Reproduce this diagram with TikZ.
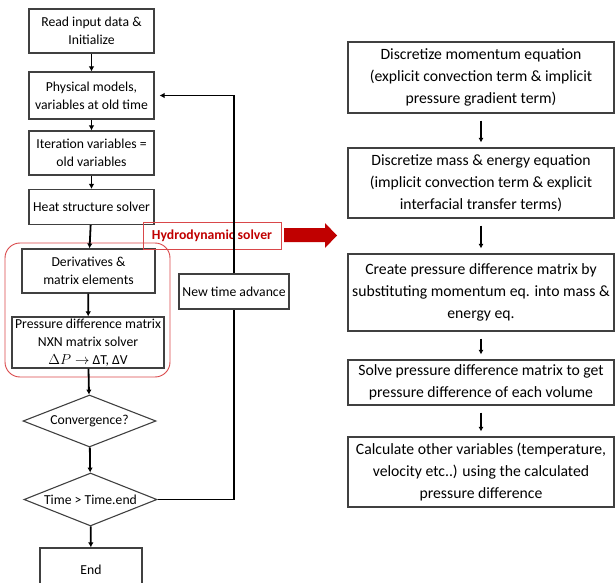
\documentclass[tikz,border=0pt]{standalone}
\usepackage{fontspec}
\setmainfont{Carlito}
\usetikzlibrary{shapes.geometric,arrows.meta}
\definecolor{boxgray}{HTML}{404040}
\definecolor{darkred}{HTML}{C00000}
\definecolor{softred}{HTML}{D9484A}
\tikzset{
  flow/.style={draw=boxgray, line width=1.1pt, align=center, inner sep=0pt,
    font=\fontsize{13.7}{18}\selectfont},
  decide/.style={flow, diamond, aspect=2.5},
  rightbox/.style={flow, minimum width=266, font=\fontsize{15.7}{22}\selectfont},
  arr/.style={line width=1.8pt, -{Latex[length=5pt,width=5.5pt]}},
  thinarr/.style={line width=1.5pt, -{Latex[length=4.5pt,width=5pt]}},
}
\begin{document}
\begin{tikzpicture}[x=1pt,y=-1pt]
        \useasboundingbox (0,0) rectangle (616,583);
        \clip (0,0) rectangle (616,583);
        \node[flow, minimum width=125, minimum height=44] (read) at (91.5,31) {Read input data \&\\Initialize};
        \node[flow, minimum width=125, minimum height=47] (phys) at (91.5,95.5) {Physical models,\\variables at old time};
        \node[flow, minimum width=125, minimum height=44] (iter) at (91.5,153) {Iteration variables =\\old variables};
        \node[flow, minimum width=125, minimum height=35] (heat) at (91.5,207) {Heat structure solver};
        \node[flow, minimum width=133, minimum height=44] (deriv) at (88.5,271) {Derivatives \&\\matrix elements};
        \node[flow, minimum width=152, minimum height=51] (pdm) at (88,342.5) {Pressure difference matrix\\NXN matrix solver\\$\Delta P\rightarrow$ ΔT, ΔV};
        \node[decide, minimum width=133, minimum height=52] (conv) at (89.5,421) {Convergence?};
        \node[decide, minimum width=133, minimum height=53] (tend) at (90.5,499.5) {Time > Time.end};
        \node[flow, minimum width=102, minimum height=44] (stop) at (91,570) {End};
        \node[flow, fill=white, minimum width=110, minimum height=35] (newtime) at (234,291.5) {New time advance};
        \draw[softred, line width=0.9pt, rounded corners=15] (5,243) rectangle (170,377);
        \node[draw=softred, line width=0.9pt, text=darkred, inner sep=0pt, minimum width=138, minimum height=27,
              font=\fontsize{13.7}{18}\selectfont\bfseries] (hydro) at (212,235.5) {Hydrodynamic solver};
        \fill[darkred] (284,228) -- (325,228) -- (325,223) -- (337,235.5) -- (325,248) -- (325,242) -- (284,242) -- cycle;
        \foreach \a/\b in {read/phys,phys/iter,iter/heat,heat/deriv,deriv/pdm,pdm/conv,conv/tend,tend/stop}
        {
            \draw[arr] (\a) -- (\b);
        }
        \draw[line width=1.3pt] (tend.east) -- (tend.east -| newtime.south) -- (newtime.south);
        \draw[line width=1.3pt, -{Latex[length=5pt,width=5.5pt]}, shorten >=5pt] (newtime.north) |- (phys.east);
        \foreach \nm / \yc / \hgt / \txt in {
            s1/77.5/71/{Discretize momentum equation\\(explicit convection term \& implicit\\pressure gradient term)},
            s2/183/70/{Discretize mass \& energy equation\\(implicit convection term \& explicit\\interfacial transfer terms)},
            s3/292.5/77/{Create pressure difference matrix by\\substituting momentum eq. into mass \&\\energy eq.},
            s4/382.5/45/{Solve pressure difference matrix to get\\pressure difference of each volume},
            s5/472/70/{Calculate other variables (temperature,\\velocity etc..) using the calculated\\pressure difference}}
        {
            \node[rightbox, minimum height=\hgt] (\nm) at (481,\yc) {\txt};
        }
        \foreach \a/\b in {s1/s2,s2/s3,s3/s4,s4/s5}
        {
            \draw[thinarr, shorten <=7pt, shorten >=5pt] (\a) -- (\b);
        }
    \end{tikzpicture}
\end{document}
